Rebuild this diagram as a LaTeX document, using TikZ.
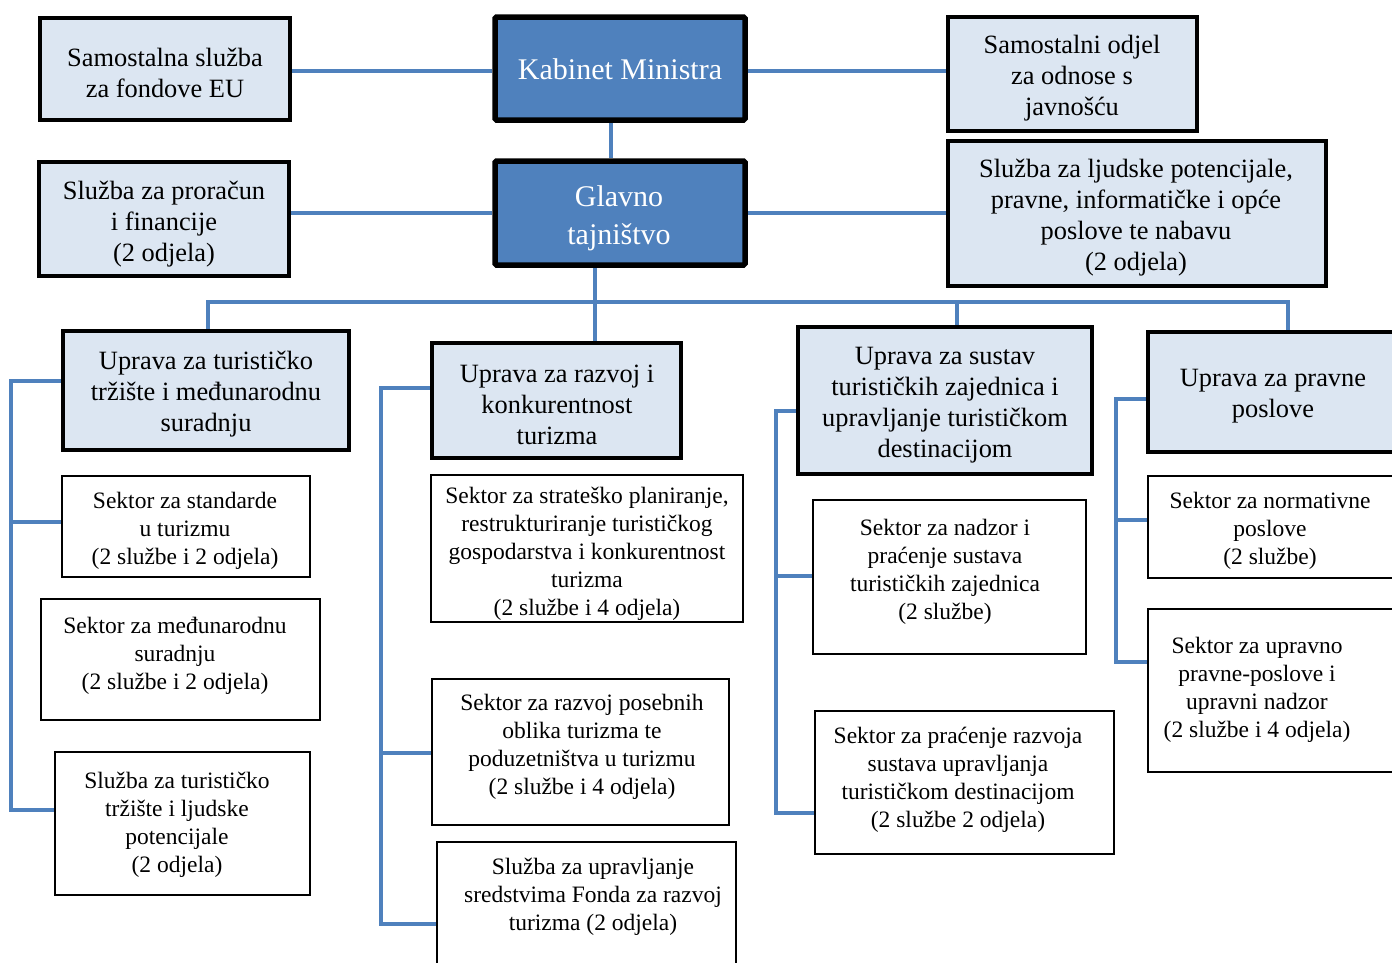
\documentclass[tikz,border=0pt]{standalone}
\usepackage{fontspec}
\setmainfont{Liberation Serif}
\definecolor{dk}{HTML}{4F81BD}
\definecolor{lt}{HTML}{DCE6F2}
\pgfdeclarelayer{bg}
\pgfdeclarelayer{paper}
\pgfsetlayers{paper,bg,main}
\tikzset{
 conn/.style={draw=dk, line width=3.2pt},
 mainbox/.style={draw=black, fill=dk, line width=5.5pt, rounded corners=1.5pt},
 sidebox/.style={draw=black, fill=lt, line width=3.3pt},
 upbox/.style={draw=black, fill=lt, line width=3.5pt},
 secbox/.style={draw=black, fill=white, line width=2.2pt},
 maintxt/.style={text=white, font=\fontsize{30}{38}\selectfont, align=center},
 sidetxt/.style={font=\fontsize{26.4}{31}\selectfont, align=center},
 uptxt/.style={font=\fontsize{26.4}{31}\selectfont, align=center},
 sectxt/.style={font=\fontsize{23.5}{28}\selectfont, align=center},
}
% name, x1, y1, x2, y2, box style, text style, text centre, text
\newcommand\orgbox[9]{%
 \node[#6, minimum width={(#4-#2)*1pt}, minimum height={(#5-#3)*1pt}, inner sep=0pt] (#1) at ({(#2+#4)/2},{(#3+#5)/2}) {};
 \node[#7, inner sep=0pt, yshift=-3pt] (#1-t) at #8 {#9};}
\begin{document}
\begin{tikzpicture}[x=1pt,y=-1pt]
\clip (0,0) rectangle (1392,962);
\begin{pgfonlayer}{paper}
\fill[white] (0,0) rectangle (1392,962);
\end{pgfonlayer}

\orgbox{sam}{40}{18}{290}{120}{sidebox}{sidetxt}{(165,70)}{Samostalna služba\\za fondove EU}
\orgbox{kab}{495}{17}{745}{120}{mainbox}{maintxt}{(620,66)}{Kabinet Ministra}
\orgbox{odj}{948}{17}{1197}{131}{sidebox}{sidetxt}{(1072,75)}{Samostalni odjel\\za odnose s\\javnošću}
\orgbox{pror}{39}{162}{289}{276}{sidebox}{sidetxt}{(164,221)}{Služba za proračun\\i financije\\(2 odjela)}
\orgbox{gl}{495}{161}{745}{265}{mainbox}{maintxt}{(619,215)}{Glavno\\tajništvo}
\orgbox{ljud}{948}{141}{1326}{286}{sidebox}{sidetxt}{(1136,215)}{Služba za ljudske potencijale,\\pravne, informatičke i opće\\poslove te nabavu\\(2 odjela)}

\orgbox{u1}{63}{331}{349}{450}{upbox}{uptxt}{(206,391)}{Uprava za turističko\\tržište i međunarodnu\\suradnju}
\orgbox{u2}{432}{343}{681}{458}{upbox}{uptxt}{(557,402)}{Uprava za razvoj i\\konkurentnost\\turizma}
\orgbox{u3}{798}{327}{1092}{474}{upbox}{uptxt}{(945,402.5)}{Uprava za sustav\\turističkih zajednica i\\upravljanje turističkom\\destinacijom}
\orgbox{u4}{1148}{332}{1400}{452}{upbox}{uptxt}{(1273,393.5)}{Uprava za pravne\\poslove}

\orgbox{s1}{62}{476}{310}{577}{secbox}{sectxt}{(185,527.5)}{Sektor za standarde\\u turizmu\\(2 službe i 2 odjela)}
\orgbox{s2}{41}{599}{320}{720}{secbox}{sectxt}{(175,653)}{Sektor za međunarodnu\\suradnju\\(2 službe i 2 odjela)}
\orgbox{s3}{55}{752}{310}{895}{secbox}{sectxt}{(177,821.5)}{Služba za turističko\\tržište i ljudske\\potencijale\\(2 odjela)}
\orgbox{s4}{431}{475}{743}{622}{secbox}{sectxt}{(587,551)}{Sektor za strateško planiranje,\\restrukturiranje turističkog\\gospodarstva i konkurentnost\\turizma\\(2 službe i 4 odjela)}
\orgbox{s5}{432}{679}{729}{825}{secbox}{sectxt}{(582,744)}{Sektor za razvoj posebnih\\oblika turizma te\\poduzetništva u turizmu\\(2 službe i 4 odjela)}
\orgbox{s6}{437}{842}{736}{985}{secbox}{sectxt}{(593,894)}{Služba za upravljanje\\sredstvima Fonda za razvoj\\turizma (2 odjela)}
\orgbox{s7}{813}{500}{1086}{654}{secbox}{sectxt}{(945,569)}{Sektor za nadzor i\\praćenje sustava\\turističkih zajednica\\(2 službe)}
\orgbox{s8}{815}{711}{1114}{854}{secbox}{sectxt}{(958,777)}{Sektor za praćenje razvoja\\sustava upravljanja\\turističkom destinacijom\\(2 službe 2 odjela)}
\orgbox{s9}{1148}{476}{1400}{578}{secbox}{sectxt}{(1270,527.5)}{Sektor za normativne\\poslove\\(2 službe)}
\orgbox{s10}{1148}{609}{1400}{772}{secbox}{sectxt}{(1257,687)}{Sektor za upravno\\pravne-poslove i\\upravni nadzor\\(2 službe i 4 odjela)}

\coordinate (ky) at (0,71);
\coordinate (kx) at (611,0);
\coordinate (bl) at (208,302);
\coordinate (br) at (1288,302);
\coordinate (gx) at (595,302);
\coordinate (b3) at (957,302);
\coordinate (a1) at (11,381);  \coordinate (a1m) at (11,522);   \coordinate (a1e) at (11,810);
\coordinate (a2) at (381,388); \coordinate (a2m) at (381,753);  \coordinate (a2e) at (381,924);
\coordinate (a3) at (776,411); \coordinate (a3m) at (776,576);  \coordinate (a3e) at (776,813);
\coordinate (a4) at (1116,399);\coordinate (a4m) at (1116,520); \coordinate (a4e) at (1116,662);

\begin{pgfonlayer}{bg}
\draw[conn] (sam.east |- ky) -- (kab.west |- ky);
\draw[conn] (kab.east |- ky) -- (odj.west |- ky);
\draw[conn] (kab.south -| kx) -- (gl.north -| kx);
\draw[conn] (pror.east |- gl.west) -- (gl.west);
\draw[conn] (gl.east) -- (ljud.west |- gl.east);
\draw[conn] (gl.south -| gx) -- (u2.north -| gx);
\draw[conn] (u1.north -| bl) -- (bl) -- (br) -- (u4.north -| br);
\draw[conn] (b3) -- (u3.north -| b3);
\draw[conn] (u1.west |- a1) -- (a1) -- (a1e) -- (s3.west |- a1e);
\draw[conn] (a1m) -- (s1.west |- a1m);
\draw[conn] (u2.west |- a2) -- (a2) -- (a2e) -- (s6.west |- a2e);
\draw[conn] (a2m) -- (s5.west |- a2m);
\draw[conn] (u3.west |- a3) -- (a3) -- (a3e) -- (s8.west |- a3e);
\draw[conn] (a3m) -- (s7.west |- a3m);
\draw[conn] (u4.west |- a4) -- (a4) -- (a4e) -- (s10.west |- a4e);
\draw[conn] (a4m) -- (s9.west |- a4m);
\end{pgfonlayer}
\end{tikzpicture}
\end{document}
